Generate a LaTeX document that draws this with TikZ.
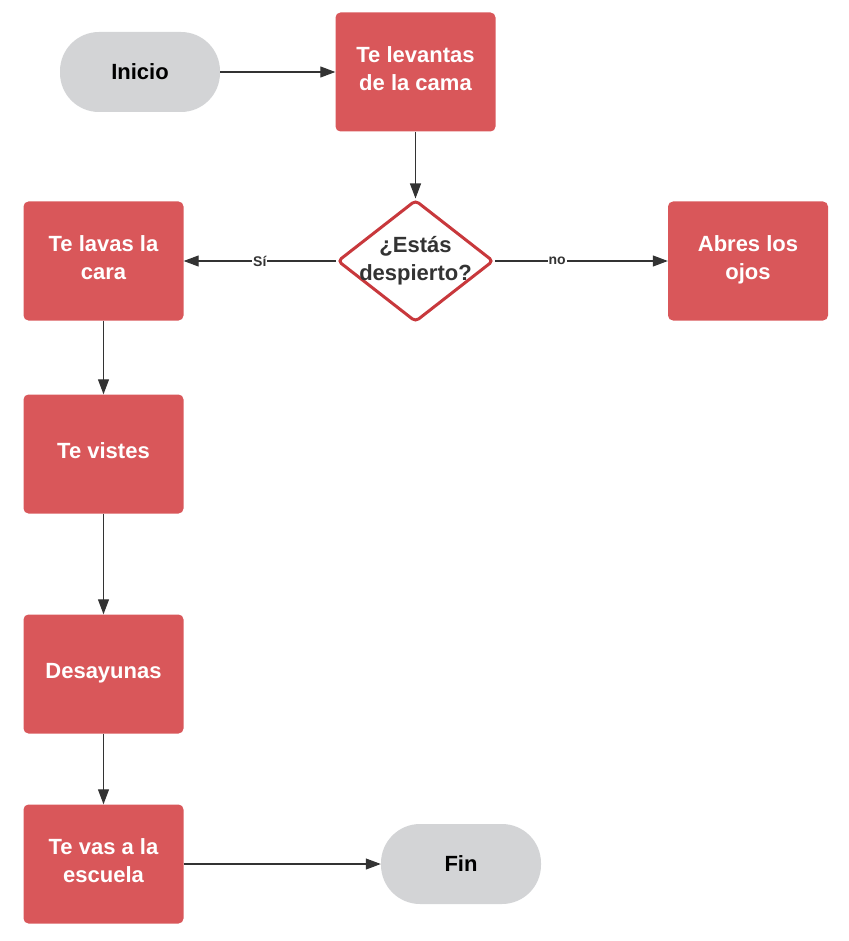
\documentclass[tikz,border=0pt]{standalone}
\usepackage{fontspec}
\setmainfont{Liberation Sans}
\usetikzlibrary{shapes.geometric,positioning,arrows.meta}

\definecolor{rojo}{HTML}{D9575A}
\definecolor{rojoborde}{HTML}{C8383C}
\definecolor{gris}{HTML}{D3D4D6}
\definecolor{linea}{HTML}{333333}

\begin{document}
\begin{tikzpicture}[on grid,auto,
    >={Triangle[length=15pt,width=11pt]},
    proceso/.style={rectangle,rounded corners=5pt,fill=rojo,text=white,
        minimum width=160pt,minimum height=119pt,align=center,
        text depth=6pt,font=\fontsize{22}{28}\selectfont\bfseries},
    terminal/.style={rectangle,rounded corners=39pt,fill=gris,text=black,
        minimum width=160pt,minimum height=80pt,
        font=\fontsize{22}{28}\selectfont\bfseries},
    decision/.style={diamond,draw=rojoborde,line width=3pt,fill=white,
        rounded corners=4pt,minimum width=156pt,minimum height=122pt,inner sep=0pt},
    etiqueta/.style={fill=white,text=linea,inner sep=1pt,
        font=\fontsize{14}{16}\selectfont\bfseries}]
    \useasboundingbox (0pt,0pt) rectangle (848pt,-941pt);

    \node[terminal] (inicio) at (140pt,-72pt) {Inicio};
    \node[proceso] (levantas) [right=275.5pt of inicio] {Te levantas\\de la cama};
    \node[decision] (despierto) [below=189pt of levantas,
        label={[text=linea,align=center,font=\fontsize{22}{28}\selectfont\bfseries]center:¿Estás\\despierto?}] {};
    \node[proceso] (lavas) [left=312pt of despierto] {Te lavas la\\cara};
    \node[proceso] (ojos) [right=332.5pt of despierto] {Abres los\\ojos};
    \node[proceso] (vistes) [below=193pt of lavas] {Te vistes};
    \node[proceso] (desayunas) [below=220pt of vistes] {Desayunas};
    \node[proceso] (escuela) [below=190pt of desayunas] {Te vas a la\\escuela};
    \node[terminal] (fin) [right=357.5pt of escuela] {Fin};

    \path[->,color=linea,line width=1.1pt]
    (inicio) edge (levantas)
    (levantas) edge (despierto)
    (despierto) edge node[etiqueta,pos=0.5,anchor=center] {Sí} (lavas)
                edge node[etiqueta,pos=0.36,anchor=center] {no} (ojos)
    (lavas) edge (vistes)
    (vistes) edge (desayunas)
    (desayunas) edge (escuela)
    (escuela) edge (fin);
\end{tikzpicture}
\end{document}
